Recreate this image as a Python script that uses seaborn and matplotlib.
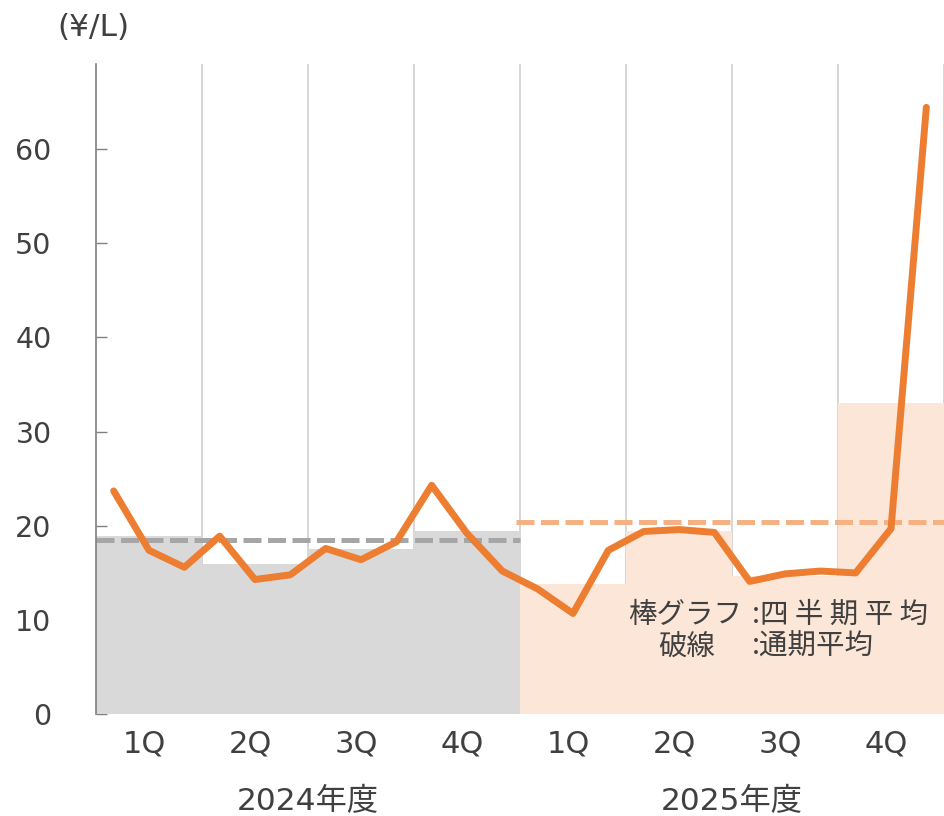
import matplotlib
matplotlib.use("Agg")
import matplotlib.pyplot as plt
import matplotlib.transforms as mtransforms
import numpy as np
import pandas as pd
import seaborn as sns

# monthly prices (yen / litre), FY2024 Apr .. FY2025 Mar
monthly_2024 = [23.7, 17.4, 15.6, 18.9, 14.3, 14.8, 17.6, 16.4, 18.3, 24.3, 19.2, 15.2]
monthly_2025 = [13.3, 10.7, 17.4, 19.4, 19.6, 19.3, 14.1, 14.9, 15.2, 15.0, 19.7, 64.4]

quarter_labels = ["1Q", "2Q", "3Q", "4Q"]
quarter_avg_2024 = [18.9, 16.0, 17.5, 19.5]
quarter_avg_2025 = [13.8, 19.4, 14.7, 33.0]

year_labels = ["2024年度", "2025年度"]
annual_avg = [18.5, 20.4]

LINE = "#ED7D31"
BAR_COLORS = ["#D9D9D9", "#FBE6D8"]
DASH_COLORS = ["#A6A6A6", "#F4B183"]
TEXT = "#404040"

sns.set_theme(style="white")
plt.rcParams["font.family"] = ["DejaVu Sans", "Noto Sans CJK JP"]

fig = plt.figure(figsize=(9.44, 8.16), dpi=100)
ax = fig.add_axes([96 / 944, 1 - 714.3 / 816, 848 / 944, (714.3 - 64) / 816])

# quarterly averages as bars spanning each quarter (x unit = month)
for i, vals in enumerate([quarter_avg_2024, quarter_avg_2025]):
    bars = pd.DataFrame({
        "center": [12 * i + 3 * q + 1.5 for q in range(4)],
        "avg": vals,
    })
    sns.barplot(data=bars, x="center", y="avg", native_scale=True, width=1,
                color=BAR_COLORS[i], saturation=1, linewidth=0, errorbar=None,
                ax=ax, zorder=1)

# annual averages as dashed lines
for i, avg in enumerate(annual_avg):
    ax.hlines(avg, 12 * i - 0.1 * i, 12 * (i + 1), colors=DASH_COLORS[i],
              linewidth=3.6, linestyles=(0, (3.6, 1.3)), zorder=2)

# monthly line
months = pd.DataFrame({
    "pos": np.arange(24) + 0.5,
    "price": monthly_2024 + monthly_2025,
})
sns.lineplot(data=months, x="pos", y="price", color=LINE, linewidth=5,
             ax=ax, zorder=3, solid_capstyle="round", solid_joinstyle="round")

ax.set_xlim(0, 24)
ax.set_ylim(0, 69)
ax.set_xlabel("")
ax.set_ylabel("")

# quarter labels at centres, grid at quarter boundaries
ax.set_xticks([3 * q + 1.5 for q in range(8)])
ax.set_xticklabels(quarter_labels * 2)
ax.set_xticks(np.arange(3, 25, 3), minor=True)
ax.grid(True, which="minor", axis="x", color="#D0D0D0", linewidth=1.2)
ax.grid(False, which="major")
ax.set_axisbelow(True)
ax.tick_params(axis="x", which="both", length=0, pad=11, labelsize=22, labelcolor=TEXT)
shift = mtransforms.ScaledTranslation(-5 / 100, 0, fig.dpi_scale_trans)
for lab in ax.get_xticklabels():
    lab.set_transform(lab.get_transform() + shift)

ax.set_yticks(range(0, 61, 10))
ax.tick_params(axis="y", direction="in", length=8, width=1, color="#808080",
               pad=32, labelsize=20.5, labelcolor=TEXT, left=True)

for s in ["top", "right", "bottom"]:
    ax.spines[s].set_visible(False)
ax.spines["left"].set_color("#808080")
ax.spines["left"].set_linewidth(1.2)

# fiscal year labels below the quarters
trans = mtransforms.blended_transform_factory(ax.transData, fig.transFigure)
for i, yl in enumerate(year_labels):
    ax.text(12 * i + 6, 1 - 801 / 816, yl, transform=trans, ha="center",
            va="center", fontsize=22.5, color=TEXT)

fig.text(57 / 944, 1 - 28 / 816, "(¥/L)", ha="left", va="center",
         fontsize=22.5, color=TEXT)

# legend note
note_font = dict(fontsize=20.5, color=TEXT, va="center", ha="left",
                 family=["Noto Sans CJK JP", "DejaVu Sans"])
fig.text(628 / 944, 1 - 615 / 816, "棒グラフ", **note_font)
fig.text(752 / 944, 1 - 615 / 816, ":四 半 期 平 均", **note_font)
fig.text(658 / 944, 1 - 647 / 816, "破線", **note_font)
fig.text(752 / 944, 1 - 647 / 816, ":通期平均", **note_font)

fig.savefig("out.png", dpi=100)
